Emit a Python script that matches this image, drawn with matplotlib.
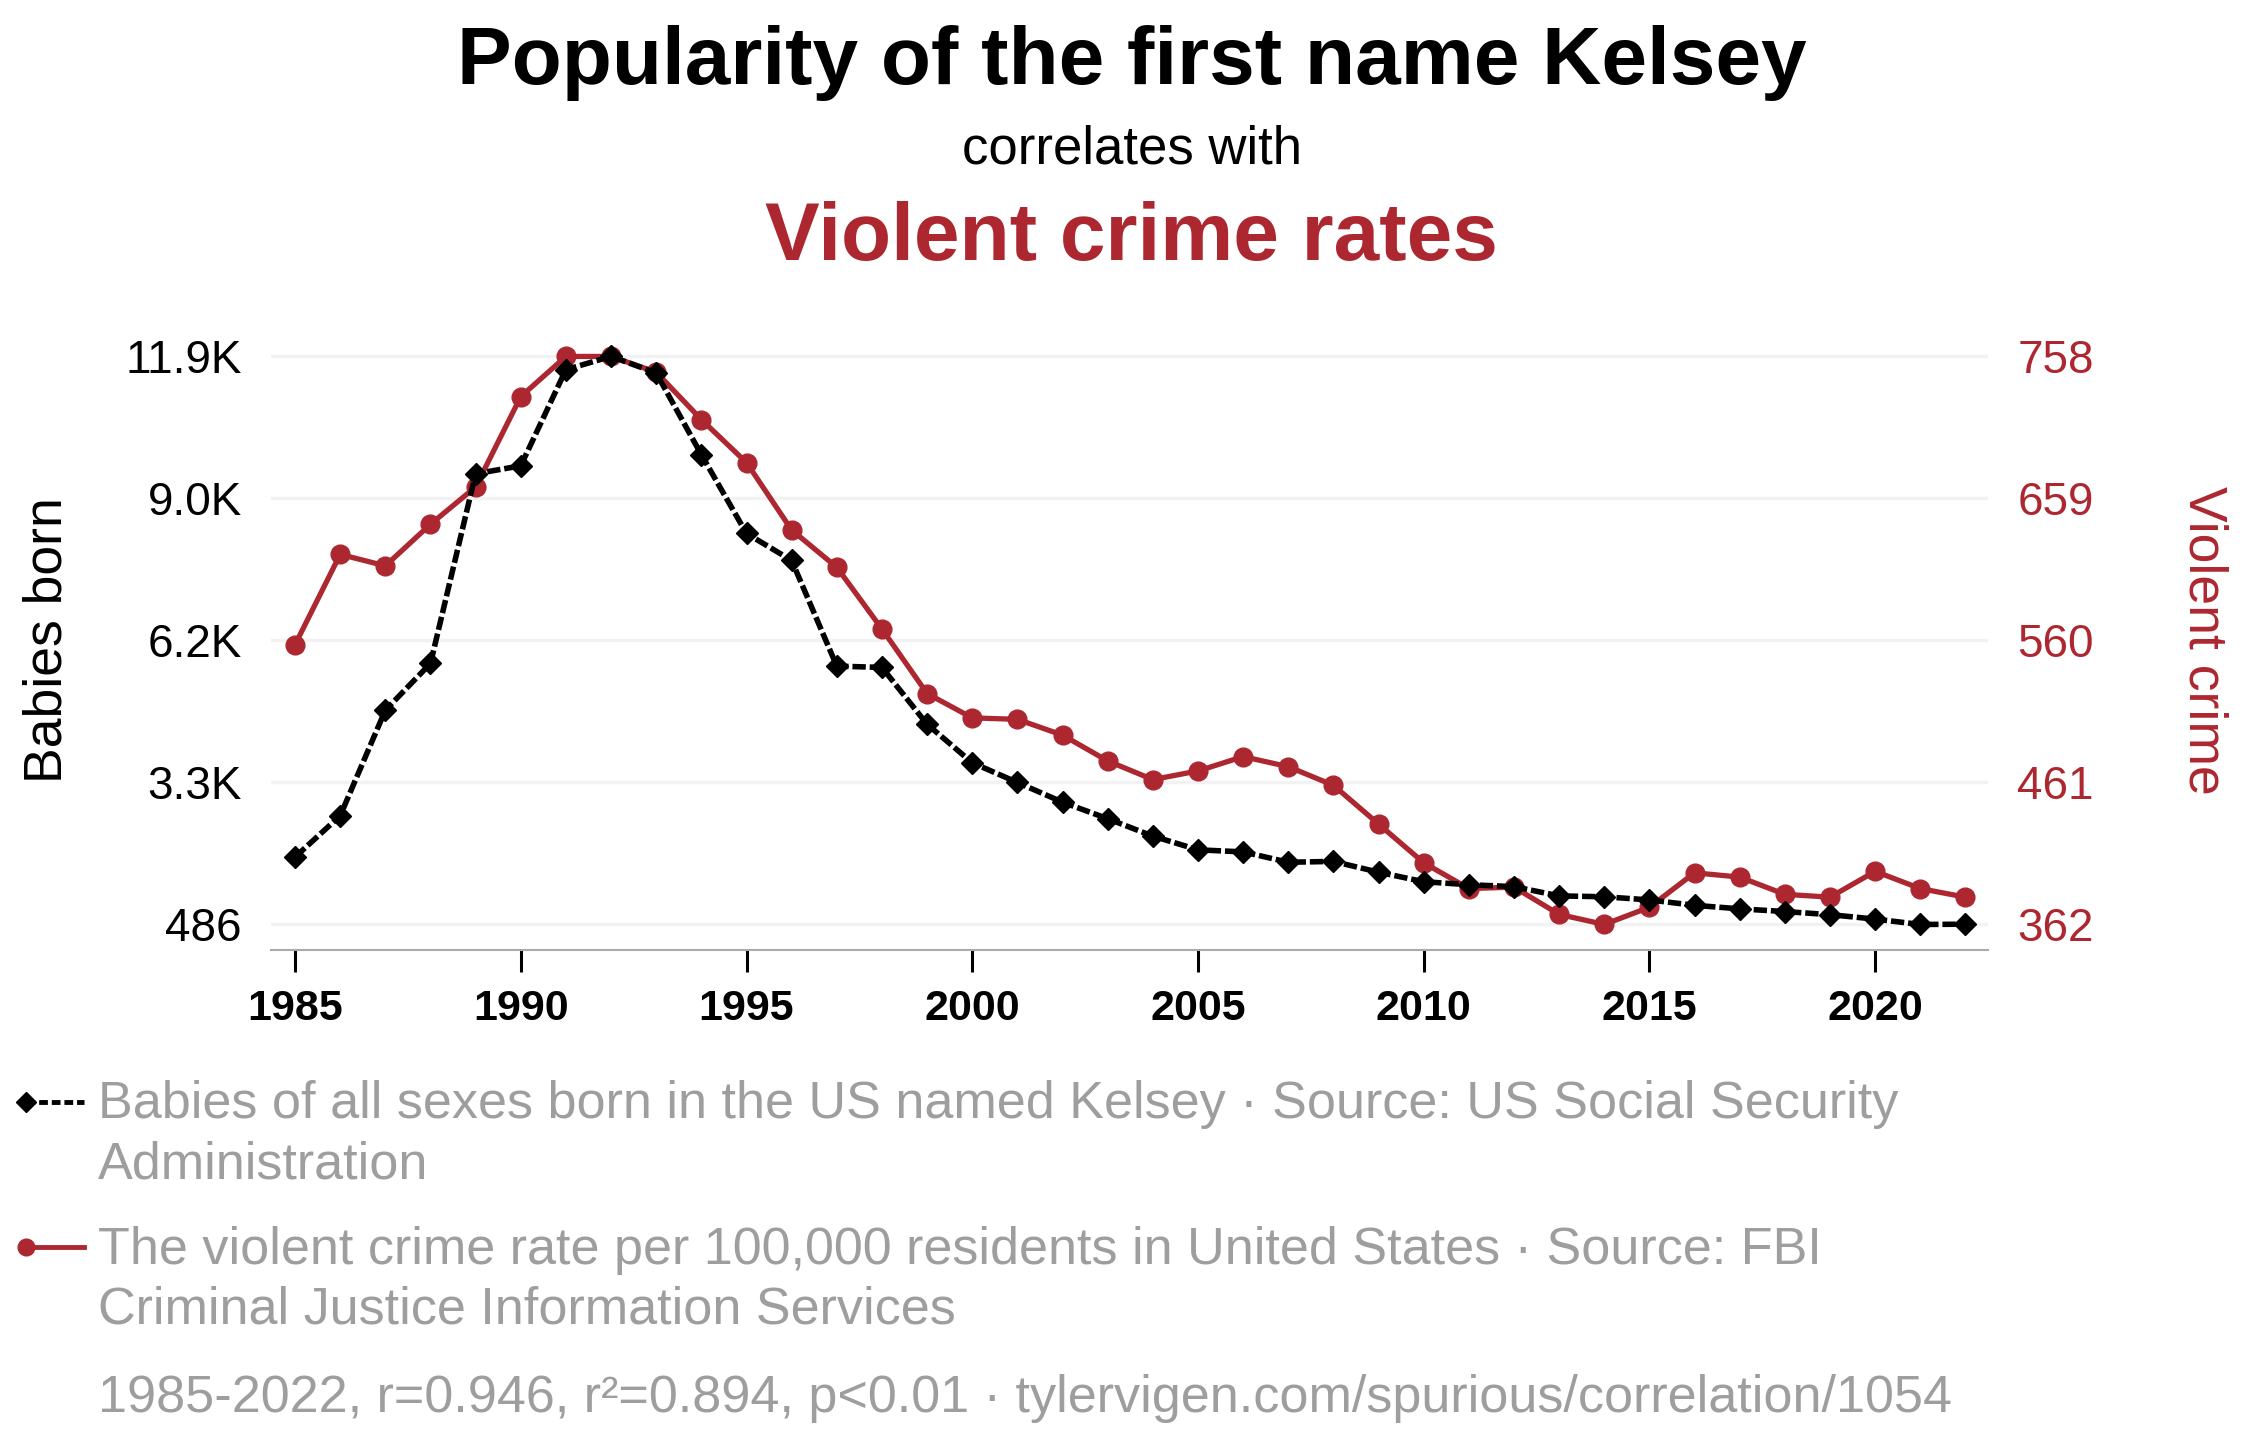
import numpy as np
import matplotlib
matplotlib.use('Agg')
import matplotlib.pyplot as plt
from matplotlib.lines import Line2D

plt.rcParams['font.family'] = ['Liberation Sans', 'DejaVu Sans']

years = list(range(1985, 2023))
babies = [1840, 2670, 4790, 5730, 9540, 9700, 11632, 11898, 11565, 9924,
          8341, 7800, 5676, 5650, 4509, 3735, 3339, 2943, 2611, 2261,
          1986, 1944, 1736, 1753, 1536, 1345, 1285, 1246, 1060, 1043,
          979, 871, 800, 746, 683, 594, 486, 492]
crime = [557, 620, 612, 641, 667, 730, 758, 758, 747, 714,
         684, 637, 611, 568, 523, 506, 505, 494, 476, 463,
         469, 479, 472, 459, 432, 405, 387, 388, 369, 362,
         374, 398, 395, 383, 381, 399, 387, 381]
left_ticks = [486, 3339, 6192, 9045, 11898]
left_labels = ['486', '3.3K', '6.2K', '9.0K', '11.9K']
right_ticks = [362, 461, 560, 659, 758]
right_labels = ['362', '461', '560', '659', '758']
year_ticks = [1985, 1990, 1995, 2000, 2005, 2010, 2015, 2020]

RED = '#ad2730'
GREY = '#9e9e9e'

fig = plt.figure(figsize=(22.63, 14.4), dpi=100)
ax = fig.add_axes([0.1198, 0.3403, 0.7587, 0.4299])
ax2 = ax.twinx()
ax.set_zorder(2)
ax2.set_zorder(1)
ax.patch.set_visible(False)

# crime (right axis, drawn below)
ax2.plot(years, crime, color=RED, lw=3.8, marker='o', ms=13.5, solid_capstyle='round')
# babies (left axis, drawn on top)
ax.plot(years, babies, color='black', lw=4.0, ls='--', dashes=(2.4, 0.7),
        marker='D', ms=11.5)

ax.set_xlim(1984.47, 2022.5)
ax.set_ylim(-26, 12410)
ax2.set_ylim(344.2, 775.8)

ax.set_yticks(left_ticks)
ax.set_yticklabels(left_labels)
ax2.set_yticks(right_ticks)
ax2.set_yticklabels(right_labels)
ax.set_xticks(year_ticks)
ax.set_xticklabels([str(y) for y in year_ticks], fontweight='bold')

ax2.grid(axis='y', color='#f2f2f2', lw=2.4)
ax2.grid(axis='x', visible=False)

for s in ['top', 'left', 'right']:
    ax.spines[s].set_visible(False)
for s in ax2.spines.values():
    s.set_visible(False)
ax.spines['bottom'].set_color('#aaaaaa')
ax.spines['bottom'].set_linewidth(1.5)

ax.tick_params(axis='x', length=16, width=2.2, color='black', pad=12, labelsize=31)
ax.tick_params(axis='y', length=0, pad=21, labelsize=33)
ax2.tick_params(axis='y', length=0, pad=21, labelsize=33, labelcolor=RED)

fig.text(0.0212, 0.5556, 'Babies born', rotation=90, ha='center', va='center', fontsize=38.5)
fig.text(0.9735, 0.5556, 'Violent crime', rotation=270, ha='center', va='center',
         fontsize=38.5, color=RED)

# titles
fig.text(0.5, 0.9417, 'Popularity of the first name Kelsey', ha='center', va='baseline',
         fontsize=59, fontweight='bold')
fig.text(0.5, 0.8868, 'correlates with', ha='center', va='baseline', fontsize=38)
fig.text(0.5, 0.8194, 'Violent crime rates', ha='center', va='baseline', fontsize=59,
         fontweight='bold', color=RED)

# legend
fig.add_artist(Line2D([0.0115, 0.0371], [0.2347, 0.2347], color='black', lw=3.5,
                      ls='--', dashes=(1.8, 0.8), marker='D', ms=10, markevery=[0]))
fig.add_artist(Line2D([0.0115, 0.0371], [0.1340, 0.1340], color=RED, lw=3.5,
                      marker='o', ms=12, markevery=[0]))
tx = 0.0433
fs = 37.5
fig.text(tx, 0.2236, 'Babies of all sexes born in the US named Kelsey \u00b7 Source: US Social Security',
         fontsize=fs, color=GREY, va='baseline')
fig.text(tx, 0.1813, 'Administration', fontsize=fs, color=GREY, va='baseline')
fig.text(tx, 0.1222, 'The violent crime rate per 100,000 residents in United States \u00b7 Source: FBI',
         fontsize=fs, color=GREY, va='baseline')
fig.text(tx, 0.0806, 'Criminal Justice Information Services', fontsize=fs, color=GREY, va='baseline')
fig.text(tx, 0.0194, '1985-2022, r=0.946, r\u00b2=0.894, p<0.01 \u00b7 tylervigen.com/spurious/correlation/1054',
         fontsize=fs, color=GREY, va='baseline')

fig.savefig('out.png', dpi=100)
